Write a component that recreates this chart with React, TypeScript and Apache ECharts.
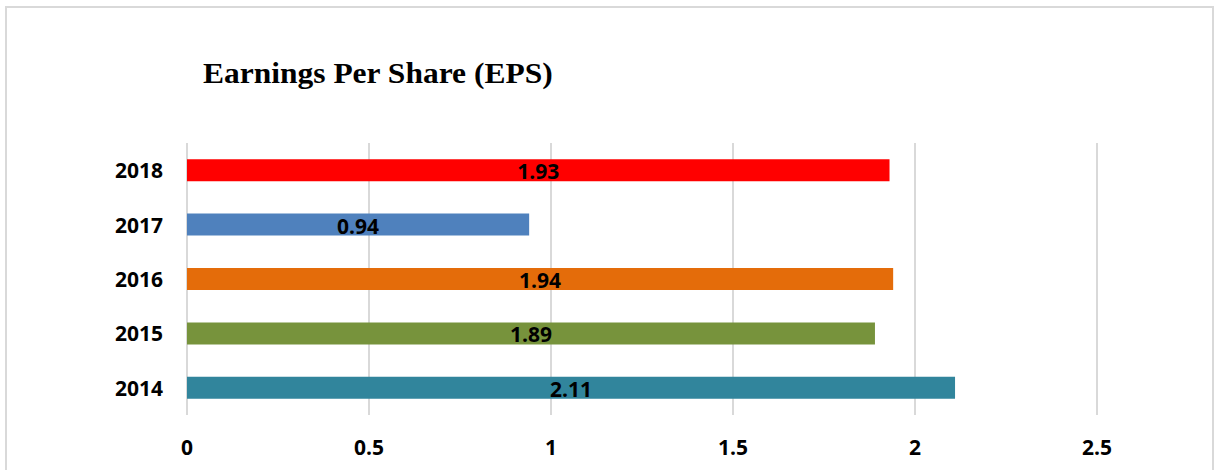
import React, { useEffect, useRef } from "react";
import * as echarts from "echarts";

const categories = ["2014", "2015", "2016", "2017", "2018"];
const epsValues = [2.11, 1.89, 1.94, 0.94, 1.93];
const barColors = ["#31859C", "#77933C", "#E46C0A", "#4F81BD", "#FF0000"];
const xTicks = { min: 0, max: 2.5, interval: 0.5 };
const titleText = "Earnings Per Share (EPS)";

export default function App() {
  const ref = useRef<HTMLDivElement>(null);
  useEffect(() => {
    document.body.style.margin = "0";
    const chart = echarts.init(ref.current!, null, { renderer: "svg" });
    const sans = "'Open Sans', 'Noto Sans', sans-serif";
    chart.setOption({
      animation: false,
      backgroundColor: "#ffffff",
      graphic: [
        {
          type: "rect",
          shape: { x: 6, y: 7, width: 1207, height: 490 },
          style: { fill: "none", stroke: "#d9d9d9", lineWidth: 2 },
          silent: true,
        },
        {
          type: "text",
          x: 203,
          y: 58,
          scaleX: 1.05,
          style: {
            text: titleText,
            fontFamily: "'Liberation Serif', 'Times New Roman', serif",
            fontWeight: "bold",
            fontSize: 30,
            fill: "#000000",
            verticalAlign: "top",
          },
        },
      ],
      grid: { left: 187, right: 120, top: 143, height: 272, containLabel: false },
      xAxis: {
        type: "value",
        min: xTicks.min,
        max: xTicks.max,
        interval: xTicks.interval,
        axisLine: { show: false },
        axisTick: { show: false },
        splitLine: { show: true, lineStyle: { color: "#d9d9d9", width: 2 } },
        axisLabel: {
          margin: 21,
          color: "#000000",
          fontFamily: sans,
          fontWeight: "bold",
          fontSize: 21,
        },
      },
      yAxis: {
        type: "category",
        data: categories,
        axisLine: { show: false },
        axisTick: { show: false },
        splitLine: { show: false },
        axisLabel: {
          margin: 24,
          color: "#000000",
          fontFamily: sans,
          fontWeight: "bold",
          fontSize: 21,
        },
      },
      series: [
        {
          type: "bar",
          barWidth: 22,
          data: epsValues.map((v, i) => ({ value: v, itemStyle: { color: barColors[i] } })),
          label: {
            show: true,
            position: "inside",
            offset: [0, 1],
            color: "#000000",
            fontFamily: sans,
            fontWeight: "bold",
            fontSize: 21,
          },
        },
      ],
    });
    return () => chart.dispose();
  }, []);
  return <div ref={ref} style={{ width: 1217, height: 470 }} />;
}
